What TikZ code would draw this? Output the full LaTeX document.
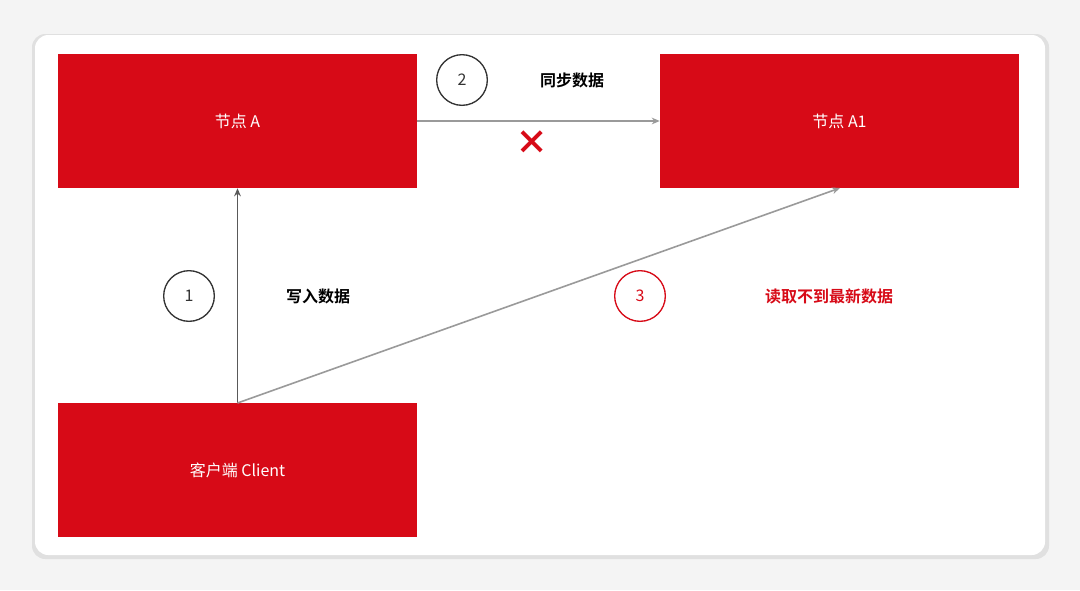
\documentclass[tikz,border=0pt]{standalone}
\usepackage{fontspec}
\setmainfont{Noto Sans CJK SC}
\newfontfamily\cjkbold{Noto Sans CJK SC Bold}
\usetikzlibrary{arrows.meta,positioning,calc}
\definecolor{boxred}{HTML}{D70A17}
\definecolor{linegray}{HTML}{9A9A9A}
\definecolor{cardbg}{HTML}{F4F4F4}

\begin{document}
\begin{tikzpicture}[x=0.75pt,y=-0.75pt]
        \tikzstyle{every node}=[font=\large]
        \tikzstyle{redbox}=[fill=boxred,text=white,minimum width=269.25pt,minimum height=100.5pt,inner sep=0pt]
        \tikzstyle{stepnum}=[circle,draw=#1,text=#1,line width=1pt,minimum size=38pt,inner sep=0pt]
        \tikzstyle{flow}=[-{Stealth[length=6pt,width=5pt]},line width=1.2pt]
        %%% Card
        \fill[cardbg] (0,0) rectangle (1080,590);
        \fill[black!12,rounded corners=10pt] (32,34) rectangle (1049,559);
        \fill[white,rounded corners=10pt] (35,35) rectangle (1045,555);

        %%% Boxes
        \node[redbox] (nodeA) at (237.5,121) {节点 A};
        \node[redbox] (nodeA1) at (839.5,121) {节点 A1};
        \node[redbox] (client) at (237.5,470) {客户端 Client};

        %%% Labels
        \node[stepnum=black!80] (step1) at (189,296) {1};
        \node[font=\large\cjkbold] (writelbl) at (318,296) {写入数据};
        \node[stepnum=black!80] (step2) at (462,80) {2};
        \node[font=\large\cjkbold] (synclbl) at (572,80) {同步数据};
        \node[stepnum=boxred] (step3) at (640,296) {3};
        \node[font=\large\cjkbold,text=boxred] (readlbl) at (829,296) {读取不到最新数据};
        \node[text=boxred,font=\Huge\bfseries] (cross) at (532,143) {\textbf{×}};

        %%% Arrows
        \coordinate (clienttop) at (237.5,403);
        \coordinate (a1bottom) at (840,188);
        \draw[flow,black!65] (clienttop) -- (nodeA.south);
        \draw[flow,linegray] (clienttop) -- (a1bottom);
        \draw[flow,linegray] (nodeA.east) -- (nodeA1.west);
\end{tikzpicture}
\end{document}
